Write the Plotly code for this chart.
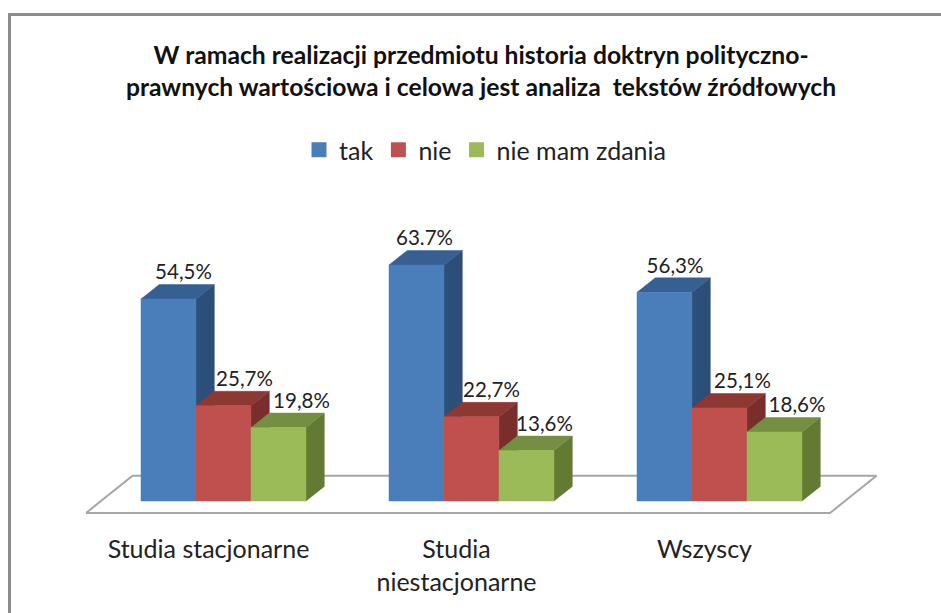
import plotly.graph_objects as go

categories = ["Studia stacjonarne", "Studia<br>niestacjonarne", "Wszyscy"]
series_names = ["tak", "nie", "nie mam zdania"]
tak = [54.5, 63.7, 56.3]
nie = [25.7, 22.7, 25.1]
nie_mam_zdania = [19.8, 13.6, 18.6]
tak_labels = ["54,5%", "63.7%", "56,3%"]
nie_labels = ["25,7%", "22,7%", "25,1%"]
nie_mam_zdania_labels = ["19,8%", "13,6%", "18,6%"]
title_text = ("W ramach realizacji przedmiotu historia doktryn polityczno-<br>"
              "prawnych wartościowa i celowa jest analiza  tekstów źródłowych")

# colours: front, top, side
COLORS = [
    ("#4A7EBB", "#376092", "#2C4F7A"),
    ("#C0504D", "#8E3834", "#7A2E2B"),
    ("#9BBB59", "#758F42", "#627A32"),
]

W, H = 941, 613
PLOT_BOTTOM = 530
PX_PER_CAT = 248.0
PX_PER_VAL = 3.706
BASE_PX = 501
FIRST_CENTER_PX = 223.5

BAR_W = 55 / PX_PER_CAT
DX = 18.3 / PX_PER_CAT
DY = 14.5 / PX_PER_VAL

# the labels were placed by hand in the original, px per series and category
LABEL_NUDGE = [[15, 8, 10.5], [21, 20, 23], [23, 18, 22.5]]

fig = go.Figure()

# floor of the 3d chart
fl, fr = (86 - FIRST_CENTER_PX) / PX_PER_CAT, (830 - FIRST_CENTER_PX) / PX_PER_CAT
fy, by = -12 / PX_PER_VAL, 25.3 / PX_PER_VAL
shift = 46.5 / PX_PER_CAT
fig.add_trace(go.Scatter(
    x=[fl, fr, fr + shift, fl + shift, fl], y=[fy, fy, by, by, fy],
    mode="lines", line=dict(color="#A6A6A6", width=2),
    showlegend=False, hoverinfo="skip",
))


def face(xs, ys, color):
    fig.add_trace(go.Scatter(
        x=xs, y=ys, mode="lines", fill="toself", fillcolor=color,
        line=dict(color=color, width=0.5), showlegend=False, hoverinfo="skip",
    ))


all_values = [tak, nie, nie_mam_zdania]
all_labels = [tak_labels, nie_labels, nie_mam_zdania_labels]

# left to right so each bar covers the side of the previous one
for c in range(len(categories)):
    for s, values in enumerate(all_values):
        v = values[c]
        x0 = c + (s - 1.5) * BAR_W
        x1 = x0 + BAR_W
        front, top, side = COLORS[s]
        face([x1, x1 + DX, x1 + DX, x1, x1], [0, DY, v + DY, v, 0], side)
        face([x0, x1, x1 + DX, x0 + DX, x0], [v, v, v + DY, v + DY, v], top)
        face([x0, x1, x1, x0, x0], [0, 0, v, v, 0], front)

# value labels
for s, values in enumerate(all_values):
    fig.add_trace(go.Scatter(
        x=[c + (s - 1) * BAR_W + LABEL_NUDGE[s][c] / PX_PER_CAT for c in range(len(categories))],
        y=[v + DY for v in values],
        mode="text", text=all_labels[s], textposition="top center",
        textfont=dict(family="Lato", size=20.5, color="#222222"),
        showlegend=False, hoverinfo="skip",
    ))

# legend entries
for s, name in enumerate(series_names):
    fig.add_trace(go.Scatter(
        x=[None], y=[None], mode="markers", name=name,
        marker=dict(symbol="square", size=15, color=COLORS[s][0]),
    ))

fig.update_layout(
    width=W, height=H, autosize=False,
    margin=dict(l=0, r=0, t=0, b=H - PLOT_BOTTOM),
    paper_bgcolor="white", plot_bgcolor="white",
    font=dict(family="Lato", color="#222222"),
    title=dict(
        text=title_text,
        font=dict(family="Lato", size=24.7, color="#111111", weight="bold"),
        x=481 / W, xanchor="center", y=1 - 64 / H, yanchor="top",
    ),
    legend=dict(
        orientation="h", x=299 / W, xanchor="left", y=1 - 150 / PLOT_BOTTOM, yanchor="middle",
        font=dict(family="Lato", size=25, color="#222222"),
        itemsizing="trace",
        bgcolor="rgba(0,0,0,0)",
    ),
    xaxis=dict(
        range=[-FIRST_CENTER_PX / PX_PER_CAT, (W - FIRST_CENTER_PX) / PX_PER_CAT],
        tickmode="array",
        tickvals=[c - 15 / PX_PER_CAT for c in range(len(categories))],
        ticktext=categories,
        tickfont=dict(family="Lato", size=25, color="#222222"),
        ticklabelstandoff=2,
        showgrid=False, zeroline=False, showline=False, ticks="",
    ),
    yaxis=dict(
        range=[(BASE_PX - PLOT_BOTTOM) / PX_PER_VAL, BASE_PX / PX_PER_VAL],
        showgrid=False, zeroline=False, showline=False, showticklabels=False, ticks="",
    ),
    shapes=[
        # outer chart border, only left and top are in the crop
        dict(type="path", xref="paper", yref="paper",
             path=(f"M {9.5 / W} {(PLOT_BOTTOM - H) / PLOT_BOTTOM} "
                   f"L {9.5 / W} {1 - 14.5 / PLOT_BOTTOM} L 1 {1 - 14.5 / PLOT_BOTTOM}"),
             line=dict(color="#8C8C8C", width=3)),
    ],
)

fig.write_html("out.html", config={"displayModeBar": False},
               post_script="document.body.style.margin='0';")
